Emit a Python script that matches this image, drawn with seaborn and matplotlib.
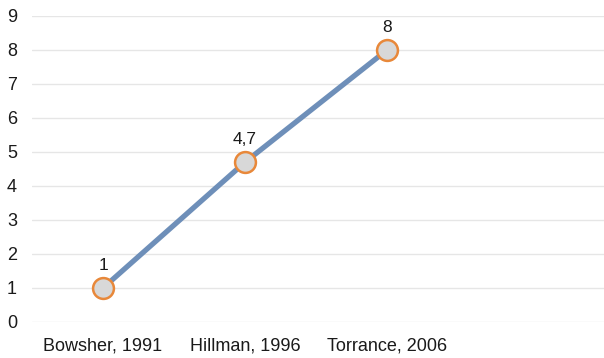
import matplotlib
matplotlib.use("Agg")
import matplotlib.pyplot as plt
import seaborn as sns
import pandas as pd

studies = ["Bowsher, 1991", "Hillman, 1996", "Torrance, 2006"]
values = [1, 4.7, 8]
value_labels = ["1", "4,7", "8"]
y_ticks = list(range(0, 10))

sns.set_theme(style="white")
plt.rcParams["font.family"] = ["Liberation Sans", "DejaVu Sans"]

df = pd.DataFrame({"study": studies, "value": values})

fig = plt.figure(figsize=(6.04, 3.58), dpi=100)
ax = fig.add_axes([32 / 604, 36 / 358, 572 / 604, 306 / 358])

sns.lineplot(data=df, x="study", y="value", ax=ax, color="#6e8fb9",
             linewidth=3.8, marker="o", markersize=15,
             markerfacecolor="#d8d8d8", markeredgecolor="#e8883a",
             markeredgewidth=1.8, sort=False)

for i, (v, lab) in enumerate(zip(values, value_labels)):
    ax.annotate(lab, (i, v), xytext=(0, 11), textcoords="offset points",
                ha="center", va="bottom", fontsize=12.5, color="#1a1a1a")

# category slots are 142 px wide; the grid runs on to the right edge
ax.set_xlim(-0.5, -0.5 + 572 / 142)
ax.set_ylim(0, 9)
ax.set_yticks(y_ticks)
ax.set_xticks(range(len(studies)))
ax.set_xticklabels(studies)
ax.set_xlabel("")
ax.set_ylabel("")
ax.grid(axis="y", color="#e6e6e6", linewidth=1.0)
ax.set_axisbelow(True)
for s in ax.spines.values():
    s.set_visible(False)
ax.tick_params(axis="y", length=0, pad=14.5, labelsize=13, labelcolor="#1a1a1a")
ax.tick_params(axis="x", length=0, pad=11, labelsize=13, labelcolor="#1a1a1a")
for t in ax.get_yticklabels():
    t.set_horizontalalignment("center")

fig.savefig("out.png", dpi=100)
